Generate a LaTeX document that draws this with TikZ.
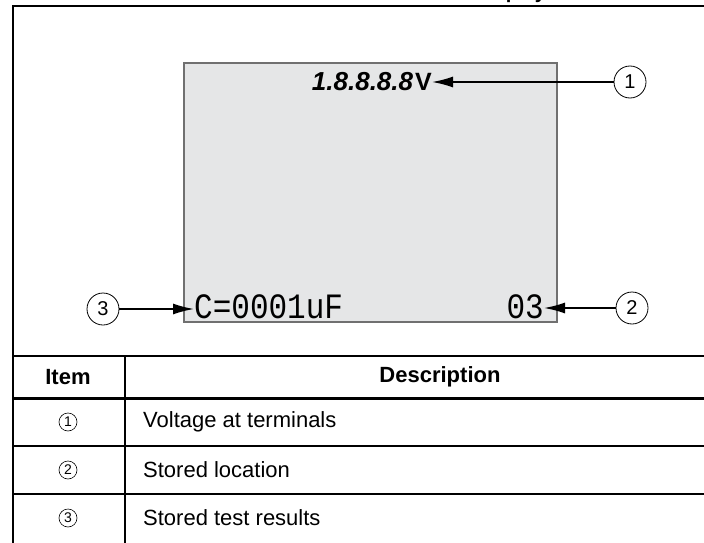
\documentclass[tikz,border=0pt]{standalone}
\usepackage{fontspec}
\setmainfont{Liberation Sans}
\newfontfamily\lcdfont{Liberation Mono}
\usetikzlibrary{arrows.meta}
\definecolor{lcd}{RGB}{229,230,231}
\definecolor{lcdedge}{RGB}{112,112,112}

\begin{document}
\begin{tikzpicture}[x=1pt, y=-1pt,
  callout/.style={circle, draw, line width=0.8pt, minimum size=32pt, inner sep=0pt, font=\fontsize{20}{20}\selectfont},
  tag/.style={circle, draw, line width=0.6pt, minimum size=18pt, inner sep=0pt, font=\fontsize{14}{14}\selectfont},
  pointer/.style={-{Latex[length=21pt, width=11pt]}, line width=1.6pt},
  cell/.style={font=\fontsize{22}{22}\selectfont, inner sep=0pt},
  head/.style={font=\bfseries\fontsize{22}{22}\selectfont, inner sep=0pt}]
\useasboundingbox (0,0) rectangle (704,543);
\node[anchor=base, inner sep=0pt, font=\bfseries\fontsize{20}{20}\selectfont] (title) at (378,-1.5) {Table 8. Stored Result Data Display};
% frame and table rules
\draw[line width=2pt] (12.5,560) -- (12.5,6.5) -- (760,6.5);
\draw[line width=2pt] (12.5,356) -- (760,356);
\draw[line width=3.5pt] (12.5,398.5) -- (760,398.5);
\draw[line width=2pt] (12.5,446) -- (760,446) (12.5,494) -- (760,494);
\draw[line width=2pt] (125,356) -- (125,560);
% display
\draw[lcdedge, fill=lcd, line width=1.2pt] (184,63) rectangle (557,322);
\node[anchor=base east, inner sep=0pt] (volts) at (432,91)
  {{\bfseries\itshape\fontsize{26}{26}\selectfont 1.8.8.8.8}\hspace{2pt}{\bfseries\fontsize{25}{25}\selectfont V}};
\node[anchor=base west, inner sep=0pt] (result) at (194,318)
  {\scalebox{1}[1.15]{\lcdfont\fontsize{31}{31}\selectfont C=0001uF}};
\node[anchor=base east, inner sep=0pt] (loc) at (544,318)
  {\scalebox{1}[1.15]{\lcdfont\fontsize{31}{31}\selectfont 03}};
% callouts
\node[callout] (c1) at (630,82) {1};
\node[callout] (c2) at (632,308) {2};
\node[callout] (c3) at (103,309) {3};
\draw[pointer] (c1) -- (volts.east |- c1);
\draw[pointer] (c2) -- (loc.east |- c2);
\draw[pointer] (c3) -- (result.west |- c3);
% table text
\node[head] (item) at (68,377) {Item};
\node[head] (desc) at (440,377) {Description};
\foreach \n/\y/\t in {1/422/Voltage at terminals, 2/470/Stored location, 3/518/Stored test results}{
  \node[tag] (t\n) at (68,\y) {\n};
  \node[cell, anchor=west] (d\n) at (143,\y) {\t};
}
\end{tikzpicture}
\end{document}
